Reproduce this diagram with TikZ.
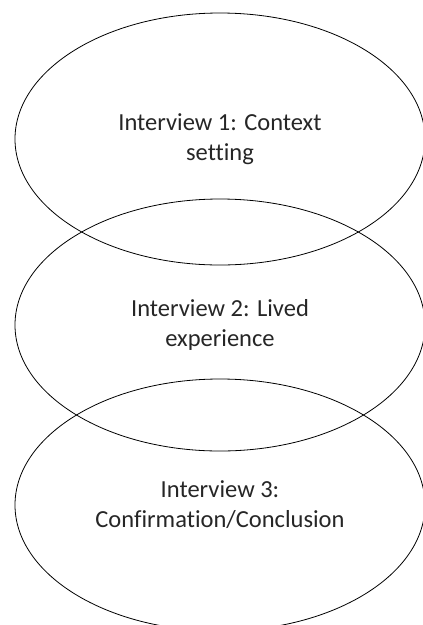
\documentclass[tikz,border=0pt]{standalone}
\usepackage{fontspec}
\setmainfont[Ligatures=NoCommon]{Carlito}
\usetikzlibrary{shapes.geometric}
\begin{document}
\begin{tikzpicture}[x=1pt,y=-1pt,
  phase/.style={draw=black, line width=0.8pt, ellipse, inner sep=0pt,
    minimum width=410pt, minimum height=252pt, text=black!85,
    font=\fontsize{24.5}{30}\selectfont, align=center}]
\useasboundingbox (0,0) rectangle (423,625);
\node[phase] (i1) at (220,139) {Interview 1: Context\\setting};
\node[phase] (i2) at (220,325) {Interview 2: Lived\\experience};
\node[phase] (i3) at (220,505) {Interview 3:\\Confirmation/Conclusion};
\end{tikzpicture}
\end{document}
